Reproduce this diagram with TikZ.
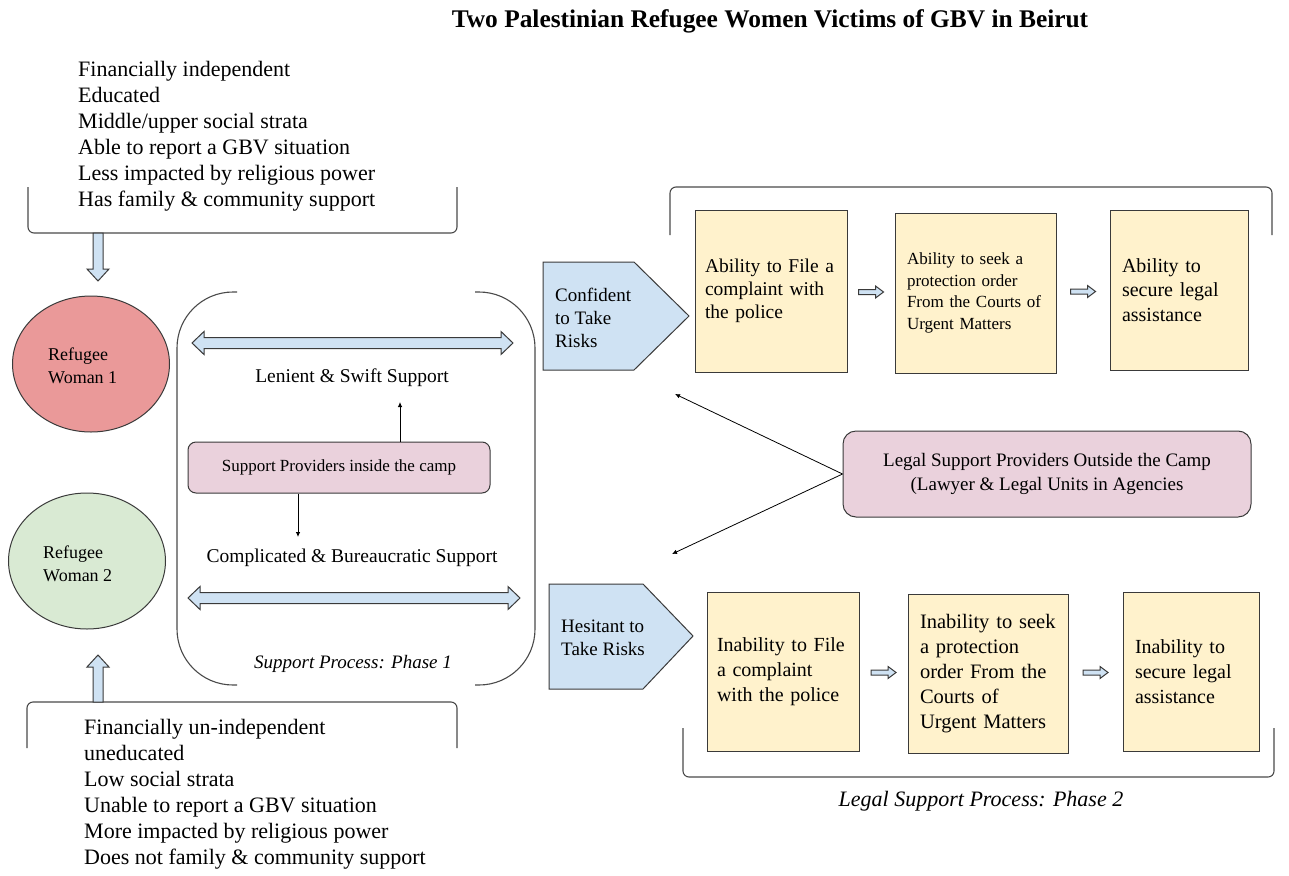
\documentclass[tikz,border=0pt]{standalone}
\usepackage{fontspec}
\setmainfont{Liberation Serif}
\usetikzlibrary{calc,shapes.geometric,arrows.meta}

\definecolor{lblue}{HTML}{CFE2F3}
\definecolor{lyellow}{HTML}{FFF2CC}
\definecolor{lpink}{HTML}{EAD1DC}
\definecolor{lred}{HTML}{EA9999}
\definecolor{lgreen}{HTML}{D9EAD3}
\definecolor{edge}{HTML}{3A3A3A}
\definecolor{brk}{HTML}{4A4A4A}

\newcommand\fs[2]{\fontsize{#1}{#2}\selectfont}

% block arrow with one head: start #1, tip #2, shaft half width #3, head half width #4, head length #5
\newcommand\singleblk[5]{%
  \path[blk] let \p1=#1, \p2=#2, \n1={atan2(\y2-\y1,\x2-\x1)} in
    ($(\p1)+(\n1+90:#3)$)
    -- ($(\p2)+(\n1+180:#5)+(\n1+90:#3)$)
    -- ($(\p2)+(\n1+180:#5)+(\n1+90:#4)$)
    -- (\p2)
    -- ($(\p2)+(\n1+180:#5)+(\n1-90:#4)$)
    -- ($(\p2)+(\n1+180:#5)+(\n1-90:#3)$)
    -- ($(\p1)+(\n1-90:#3)$) -- cycle;}

% block arrow with a head at both ends
\newcommand\doubleblk[5]{%
  \path[blk] let \p1=#1, \p2=#2, \n1={atan2(\y2-\y1,\x2-\x1)} in
    (\p1)
    -- ($(\p1)+(\n1:#5)+(\n1+90:#4)$)
    -- ($(\p1)+(\n1:#5)+(\n1+90:#3)$)
    -- ($(\p2)+(\n1+180:#5)+(\n1+90:#3)$)
    -- ($(\p2)+(\n1+180:#5)+(\n1+90:#4)$)
    -- (\p2)
    -- ($(\p2)+(\n1+180:#5)+(\n1-90:#4)$)
    -- ($(\p2)+(\n1+180:#5)+(\n1-90:#3)$)
    -- ($(\p1)+(\n1:#5)+(\n1-90:#3)$)
    -- ($(\p1)+(\n1:#5)+(\n1-90:#4)$) -- cycle;}

\tikzset{
  blk/.style={draw=edge, fill=lblue, line width=1pt, line join=miter},
  bracket/.style={draw=brk, line width=1.1pt, rounded corners=6pt},
  listtxt/.style={font=\fs{22}{26}, align=left, inner sep=0pt, anchor=west},
  plain/.style={inner sep=0pt},
  ybox/.style={draw=edge, fill=lyellow, line width=1pt, align=left,
    inner ysep=0pt, minimum height=160pt},
  pbox/.style={draw=edge, fill=lpink, line width=1pt, align=center},
  pent/.style={draw=edge, fill=lblue, line width=1pt, line join=miter},
  woman/.style={ellipse, draw=edge, line width=1pt, minimum width=157pt, minimum height=136pt, inner sep=0pt},
  thinarr/.style={draw=black, line width=0.8pt, -{Latex[length=5pt,width=4.5pt]}},
}

\begin{document}
\begin{tikzpicture}[x=1pt, y=-1pt]
\useasboundingbox (0,0) rectangle (1289,875);
\fill[white] (0,0) rectangle (1289,875);

% title
\node[plain, font=\fs{25.4}{30}\bfseries] (title) at (770,21) {Two Palestinian Refugee Women Victims of GBV in Beirut};

% profile of the first woman
\node[listtxt] (pro) at (78,136) {Financially independent\\Educated\\Middle/upper social strata\\Able to report a GBV situation\\Less impacted by religious power\\Has family \& community support};
\draw[bracket] (28,187) -- (28,233) -- (457,233) -- (457,187);

% profile of the second woman
\node[listtxt] (con) at (84,794) {Financially un-independent\\uneducated\\Low social strata\\Unable to report a GBV situation\\More impacted by religious power\\Does not family \& community support};
\draw[bracket] (27,748) -- (27,702) -- (457,702) -- (457,748);

% the two women
\node[woman, fill=lred] (w1) at (91,364) {};
\node[plain, align=left, anchor=west, font=\fs{18}{23}] (w1t) at (48,366) {Refugee\\Woman 1};
\node[woman, fill=lgreen] (w2) at (87,561) {};
\node[plain, align=left, anchor=west, font=\fs{18}{23}] (w2t) at (43,564) {Refugee\\Woman 2};

\coordinate (ta) at (98,233);
\coordinate (tb) at (98,281);
\singleblk{(ta)}{(tb)}{5pt}{11pt}{12pt}
\coordinate (ba) at (98,702);
\coordinate (bb) at (98,655);
\singleblk{(ba)}{(bb)}{5pt}{11pt}{12pt}

% phase 1: support inside the camp
\draw[draw=brk, line width=1.1pt, rounded corners=56pt] (237,292) -- (177,292) -- (177,685) -- (237,685);
\draw[draw=brk, line width=1.1pt, rounded corners=56pt] (475,292) -- (535,292) -- (535,685) -- (475,685);

\coordinate (ua) at (192,343);
\coordinate (ub) at (513,343);
\doubleblk{(ua)}{(ub)}{5.5pt}{11.5pt}{12pt}
\coordinate (la) at (188,598);
\coordinate (lb) at (520,598);
\doubleblk{(la)}{(lb)}{5.5pt}{11.5pt}{12pt}

\node[plain, font=\fs{19.5}{23}] (len) at (352,378) {Lenient \& Swift Support};
\node[plain, font=\fs{19.5}{23}] (comp) at (352,558) {Complicated \& Bureaucratic Support};
\node[pbox, rounded corners=8pt, minimum width=302pt, minimum height=51pt, font=\fs{17}{20}] (sp) at (339,467.5) {Support Providers inside the camp};
\coordinate (lenup) at (400,402);
\coordinate (compdn) at (298,537);
\draw[thinarr] (sp.north -| lenup) -- (lenup);
\draw[thinarr] (sp.south -| compdn) -- (compdn);
\node[plain, font=\fs{19}{23}\itshape] (ph1) at (353,664) {Support Process: Phase 1};

% phase 2: legal support, confident path
\draw[pent] (543,262) -- (634,262) -- (689,316) -- (634,370) -- (543,370) -- cycle;
\node[plain, align=left, anchor=west, font=\fs{19}{23}] (conf) at (555,318) {Confident\\to Take\\Risks};
\draw[bracket] (670,235) -- (670,187) -- (1272,187) -- (1272,235);

\node[ybox, minimum height=162pt, text width=132pt, inner xsep=10pt, font=\fs{19.5}{23}] (a1) at (771,291) {Ability to File a\\complaint with\\the police};
\node[ybox, text width=137pt, inner xsep=12pt, font=\fs{17}{21.5}] (a2) at (975.5,293) {Ability to seek a\\protection order\\From the Courts of\\Urgent Matters};
\node[ybox, text width=114pt, inner xsep=12pt, font=\fs{20}{24.5}] (a3) at (1179,290) {Ability to\\secure legal\\assistance};

\coordinate (m1) at ($(a1.east)!0.5!(a2.west)$);
\coordinate (m2) at ($(a2.east)!0.5!(a3.west)$);
\singleblk{([xshift=-12.5pt]m1)}{([xshift=12.5pt]m1)}{2.5pt}{6pt}{8pt}
\singleblk{([xshift=-12.5pt]m2)}{([xshift=12.5pt]m2)}{2.5pt}{6pt}{8pt}

% phase 2: legal support, hesitant path
\draw[pent] (549,584) -- (643,584) -- (693,636) -- (643,689) -- (549,689) -- cycle;
\node[plain, align=left, anchor=west, font=\fs{19}{23}] (hes) at (561,638) {Hesitant to\\Take Risks};

\node[ybox, text width=132pt, inner xsep=10pt, minimum height=159pt, font=\fs{20}{25}] (b1) at (783,671.5) {Inability to File\\a complaint\\with the police};
\node[ybox, text width=136pt, inner xsep=12pt, minimum height=159pt, font=\fs{20.5}{25}] (b2) at (988,673.5) {Inability to seek\\a protection\\order From the\\Courts of\\Urgent Matters};
\node[ybox, text width=112pt, inner xsep=12pt, minimum height=159pt, font=\fs{20}{25}] (b3) at (1191,671.5) {Inability to\\secure legal\\assistance};

\coordinate (m3) at ($(b1.east)!0.5!(b2.west)$);
\coordinate (m4) at ($(b2.east)!0.5!(b3.west)$);
\singleblk{([xshift=-12.5pt]m3)}{([xshift=12.5pt]m3)}{2.5pt}{6pt}{8pt}
\singleblk{([xshift=-12.5pt]m4)}{([xshift=12.5pt]m4)}{2.5pt}{6pt}{8pt}

\draw[bracket] (683,728) -- (683,777) -- (1274,777) -- (1274,728);
\node[plain, font=\fs{22}{26}\itshape] (ph2) at (981,801) {Legal Support Process: Phase 2};

% legal support from outside the camp
\node[pbox, rounded corners=13pt, minimum width=408pt, minimum height=86pt, font=\fs{19}{24}] (legal) at (1047,474) {Legal Support Providers Outside the Camp\\(Lawyer \& Legal Units in Agencies};
\coordinate (cu) at (675,394);
\coordinate (cd) at (672,554);
\draw[thinarr] (legal.west) -- (cu);
\draw[thinarr] (legal.west) -- (cd);
\end{tikzpicture}
\end{document}
